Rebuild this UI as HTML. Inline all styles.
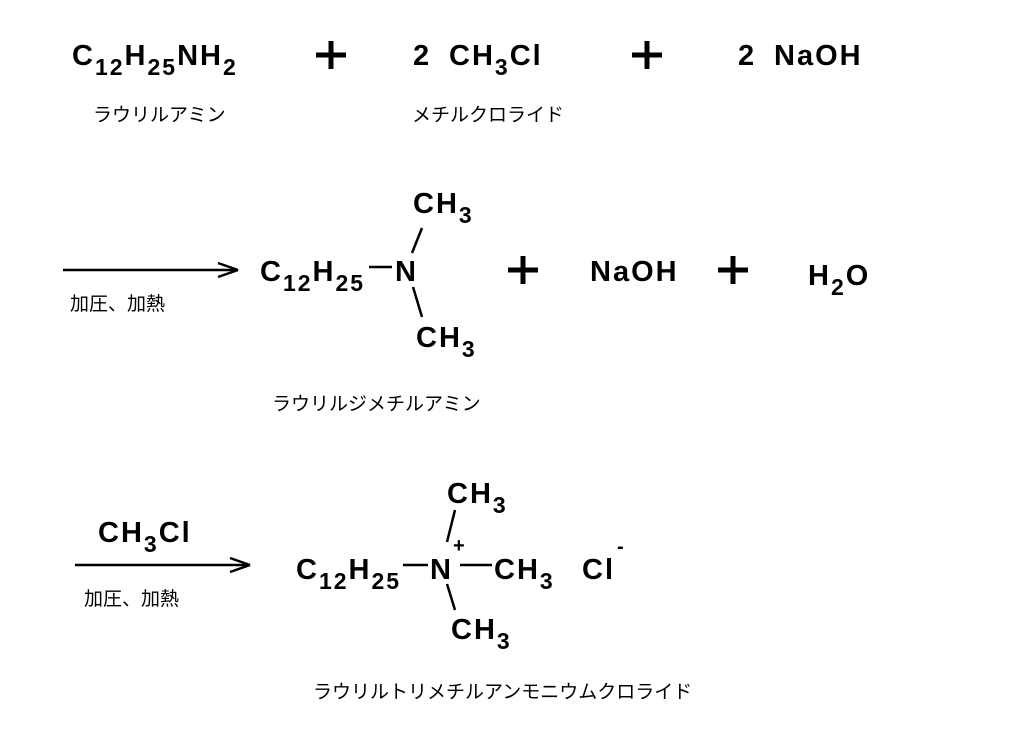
<!DOCTYPE html>
<html><head><meta charset="utf-8"><style>
html,body{margin:0;padding:0;background:#fff;}
svg{display:block;}
.f{font-family:"Liberation Sans",Arial,sans-serif;font-weight:bold;font-size:29px;fill:#000;letter-spacing:2px;}
.s{font-size:23px;}
.j{font-family:"Liberation Sans","Noto Sans CJK JP",sans-serif;font-size:19px;fill:#000;}
line{stroke:#000;stroke-width:2.5;}
.p{stroke-width:5;}
</style></head><body>
<svg width="1021" height="736" viewBox="0 0 1021 736">
<!-- Row 1 -->
<text class="f" x="72" y="65">C<tspan class="s" dy="10">12</tspan><tspan dy="-10">H</tspan><tspan class="s" dy="10">25</tspan><tspan dy="-10">NH</tspan><tspan class="s" dy="10">2</tspan></text>
<line class="p" x1="316" y1="55" x2="346" y2="55"/><line class="p" x1="331" y1="41" x2="331" y2="69"/>
<text class="f" x="413" y="65">2</text>
<text class="f" x="449" y="65">CH<tspan class="s" dy="10">3</tspan><tspan dy="-10">Cl</tspan></text>
<line class="p" x1="632" y1="55" x2="662" y2="55"/><line class="p" x1="647" y1="41" x2="647" y2="69"/>
<text class="f" x="738" y="65">2</text>
<text class="f" x="774" y="65">NaOH</text>
<text class="j" x="93" y="121">ラウリルアミン</text>
<text class="j" x="412" y="121">メチルクロライド</text>

<!-- Row 2 -->
<line x1="63" y1="270" x2="238" y2="270"/>
<line x1="238" y1="270" x2="218" y2="263"/><line x1="238" y1="270" x2="218" y2="277"/>
<text class="j" x="70" y="310">加圧、加熱</text>
<text class="f" x="260" y="281">C<tspan class="s" dy="10">12</tspan><tspan dy="-10">H</tspan><tspan class="s" dy="10">25</tspan></text>
<line x1="369" y1="267" x2="392" y2="267"/>
<text class="f" x="395" y="281">N</text>
<text class="f" x="413" y="213">CH<tspan class="s" dy="10">3</tspan></text>
<line x1="422" y1="228" x2="412" y2="253"/>
<line x1="413" y1="287" x2="422" y2="317"/>
<text class="f" x="416" y="347">CH<tspan class="s" dy="10">3</tspan></text>
<line class="p" x1="508" y1="270" x2="538" y2="270"/><line class="p" x1="523" y1="256" x2="523" y2="284"/>
<text class="f" x="590" y="281">NaOH</text>
<line class="p" x1="718" y1="270" x2="748" y2="270"/><line class="p" x1="733" y1="256" x2="733" y2="284"/>
<text class="f" x="808" y="285">H<tspan class="s" dy="10">2</tspan><tspan dy="-10">O</tspan></text>
<text class="j" x="272" y="410">ラウリルジメチルアミン</text>

<!-- Row 3 -->
<text class="f" x="98" y="542">CH<tspan class="s" dy="10">3</tspan><tspan dy="-10">Cl</tspan></text>
<line x1="75" y1="565" x2="250" y2="565"/>
<line x1="250" y1="565" x2="230" y2="558"/><line x1="250" y1="565" x2="230" y2="572"/>
<text class="j" x="84" y="605">加圧、加熱</text>
<text class="f" x="296" y="579">C<tspan class="s" dy="10">12</tspan><tspan dy="-10">H</tspan><tspan class="s" dy="10">25</tspan></text>
<line x1="403" y1="565" x2="428" y2="565"/>
<text class="f" x="430" y="579">N</text>
<text class="f" style="font-size:20px" x="453" y="552">+</text>
<line x1="460" y1="565" x2="492" y2="565"/>
<text class="f" x="494" y="579">CH<tspan class="s" dy="10">3</tspan></text>
<text class="f" x="582" y="579">Cl</text>
<text class="f" style="font-size:20px" x="617" y="553">-</text>
<text class="f" x="447" y="503">CH<tspan class="s" dy="10">3</tspan></text>
<line x1="455" y1="510" x2="447" y2="542"/>
<line x1="447" y1="584" x2="455" y2="610"/>
<text class="f" x="451" y="639">CH<tspan class="s" dy="10">3</tspan></text>
<text class="j" x="313" y="698">ラウリルトリメチルアンモニウムクロライド</text>
</svg>
</body></html>
